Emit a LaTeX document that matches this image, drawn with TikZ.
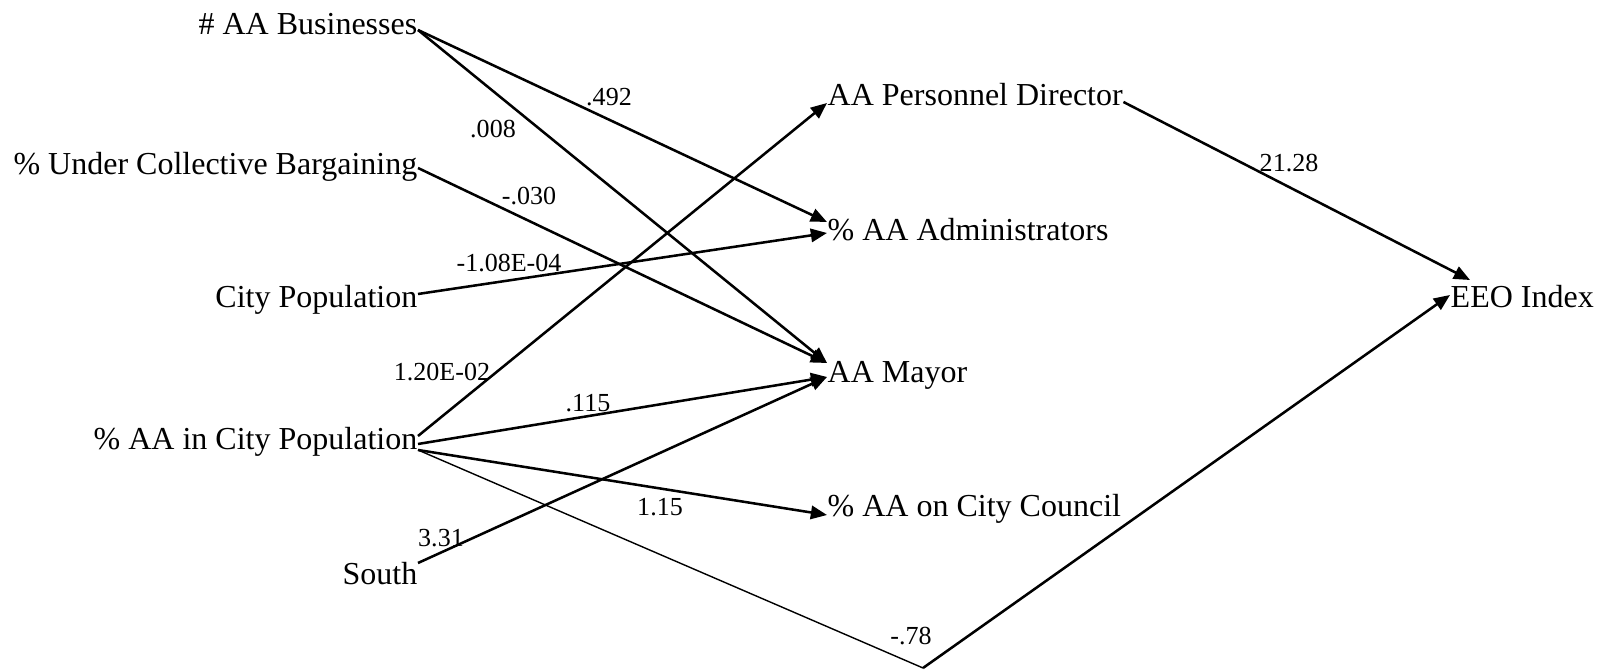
\documentclass[tikz,border=0pt]{standalone}
\usepackage{fontspec}
\setmainfont{Liberation Serif}
\usetikzlibrary{arrows.meta}

\begin{document}
\begin{tikzpicture}[x=0.01cm,y=0.01cm,
		lvar/.style={anchor=base east,inner sep=0pt,font=\fontsize{9.1}{11}\selectfont},
		rvar/.style={anchor=base west,inner sep=0pt,font=\fontsize{9.1}{11}\selectfont},
		coef/.style={inner sep=0pt,font=\fontsize{7.4}{9}\selectfont},
		link/.style={line width=0.72pt,-{Triangle[length=4.6pt,width=3.8pt]}},
		thinlink/.style={line width=0.4pt}]
		\useasboundingbox (0,0) rectangle (1600,670);
		\node[lvar] (biz) at (418,635) {\# AA Businesses};
		\node[lvar] (cba) at (418,495) {\% Under Collective Bargaining};
		\node[lvar] (pop) at (418,362) {City Population};
		\node[lvar] (aapop) at (418,220) {\% AA in City Population};
		\node[lvar] (south) at (418,85) {South};
		\node[rvar] (pdir) at (827,564) {AA Personnel Director};
		\node[rvar] (admin) at (827,429) {\% AA Administrators};
		\node[rvar] (mayor) at (827,287) {AA Mayor};
		\node[rvar] (council) at (827,153) {\% AA on City Council};
		\node[rvar] (eeo) at (1450,362) {EEO Index};
		\coordinate (bend) at (923,2);
		
		\draw[link] ([shift={(0,5)}]biz.base east) -- ([shift={(0,19)}]admin.base west);
		\draw[link] ([shift={(0,5)}]biz.base east) -- ([shift={(0,20)}]mayor.base west);
		\draw[link] ([shift={(0,7)}]cba.base east) -- ([shift={(0,20)}]mayor.base west);
		\draw[link] ([shift={(0,14)}]pop.base east) -- ([shift={(0,8)}]admin.base west);
		\draw[link] ([shift={(0,14)}]aapop.base east) -- ([shift={(0,3)}]pdir.base west);
		\draw[link] ([shift={(0,6)}]aapop.base east) -- ([shift={(0,6)}]mayor.base west);
		\draw[link] (aapop.base east) -- ([shift={(0,2)}]council.base west);
		\draw[link] ([shift={(0,22)}]south.base east) -- ([shift={(0,6)}]mayor.base west);
		\draw[link] ([shift={(0,4)}]pdir.base east) -- ([shift={(20,28)}]eeo.base west);
		\draw[thinlink] (aapop.base east) -- (bend);
		\draw[link] (bend) -- ([shift={(0,13)}]eeo.base west);
		
		\node[coef] (c492) at (609,573) {.492};
		\node[coef] (c008) at (493,541) {.008};
		\node[coef] (c030) at (529,474) {-.030};
		\node[coef] (c108) at (509,407) {-1.08E-04};
		\node[coef] (c120) at (442,298) {1.20E-02};
		\node[coef] (c115) at (588,267) {.115};
		\node[coef] (c1p15) at (660,163) {1.15};
		\node[coef] (c331) at (441,132) {3.31};
		\node[coef] (c2128) at (1289,507) {21.28};
		\node[coef] (c78) at (911,34) {-.78};
	\end{tikzpicture}
\end{document}
